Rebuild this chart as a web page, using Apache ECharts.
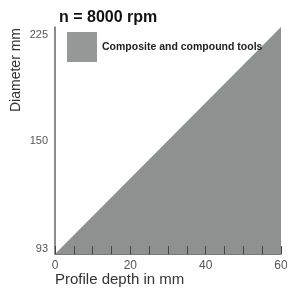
<!DOCTYPE html>
<html>
<head>
<meta charset="utf-8">
<script src="https://cdn.jsdelivr.net/npm/echarts@6/dist/echarts.min.js"></script>
<style>
  html, body { margin: 0; padding: 0; background: #fff; }
  #chart { width: 287px; height: 293px; }
</style>
</head>
<body>
<div id="chart"></div>
<script type="text/javascript">
    // data
    var depth = [0, 60];            // profile depth in mm
    var diameter = [93, 225];       // diameter mm
    var yTicks = [93, 150, 225];
    var xTicks = [0, 20, 40, 60];
    var seriesName = 'Composite and compound tools';
    var titleText = 'n = 8000 rpm';

    var points = [];
    for (var i = 0; i < depth.length; i++) {
        points.push([depth[i], diameter[i]]);
    }

    var fillColor = '#8d918f';
    var myChart = echarts.init(document.getElementById('chart'));
    var option = {
        animation: false,
        title: {
            text: titleText,
            left: 54,
            top: 5,
            textStyle: { fontFamily: 'Liberation Sans', fontSize: 16, fontWeight: 'bold', color: '#111' }
        },
        legend: {
            data: [seriesName],
            left: 62,
            top: 27,
            icon: 'rect',
            itemWidth: 30,
            itemHeight: 30,
            itemStyle: { color: '#979998' },
            textStyle: {
                fontFamily: 'Liberation Sans',
                fontSize: 10.5,
                fontWeight: 'bold',
                color: '#222'
            }
        },
        grid: { left: 55, right: 6, top: 27, bottom: 39, containLabel: false, outerBoundsMode: 'none' },
        xAxis: {
            type: 'value',
            min: 0,
            max: 60,
            interval: 20,
            z: 5,
            axisLine: { lineStyle: { color: '#777', width: 1 } },
            axisTick: { inside: true, length: 8, lineStyle: { color: '#444', width: 1 } },
            minorTick: { show: true, splitNumber: 4, length: 8, lineStyle: { color: '#444', width: 1 } },
            splitLine: { show: false },
            axisLabel: {
                margin: 6,
                fontFamily: 'Liberation Sans',
                fontSize: 12,
                color: '#555',
                customValues: xTicks
            }
        },
        yAxis: {
            type: 'log',
            min: 93,
            max: 225,
            z: 5,
            axisLine: { show: true, lineStyle: { color: '#666', width: 1.5 } },
            axisTick: { show: false },
            splitLine: { show: false },
            axisLabel: {
                margin: 7,
                fontFamily: 'Liberation Sans',
                fontSize: 11,
                color: '#555',
                customValues: yTicks,
                formatter: function (v) {
                    if (v >= 224) return '{t|' + Math.round(v) + '}';
                    if (v <= 94) return '{b|' + Math.round(v) + '}';
                    return '{m|' + Math.round(v) + '}';
                },
                rich: {
                    t: { padding: [16, 0, 0, 0], fontSize: 11, color: '#555' },
                    m: { padding: [20, 0, 0, 0], fontSize: 11, color: '#555' },
                    b: { padding: [0, 0, 10, 0], fontSize: 11, color: '#555' }
                }
            }
        },
        graphic: [
            {
                type: 'text',
                x: 16,
                y: 70,
                rotation: Math.PI / 2,
                style: {
                    text: 'Diameter mm',
                    fontFamily: 'Liberation Sans',
                    fontSize: 14,
                    fill: '#333',
                    textAlign: 'center',
                    textVerticalAlign: 'middle'
                }
            },
            {
                type: 'text',
                x: 55,
                y: 280,
                style: {
                    text: 'Profile depth in mm',
                    fontFamily: 'Liberation Sans',
                    fontSize: 15,
                    fill: '#333',
                    textAlign: 'left',
                    textVerticalAlign: 'middle'
                }
            }
        ],
        series: [
            {
                name: seriesName,
                type: 'line',
                data: points,
                symbol: 'none',
                itemStyle: { color: fillColor },
                lineStyle: { width: 0 },
                areaStyle: { color: fillColor, opacity: 1 }
            }
        ]
    };
    myChart.setOption(option);
</script>
</body>
</html>
